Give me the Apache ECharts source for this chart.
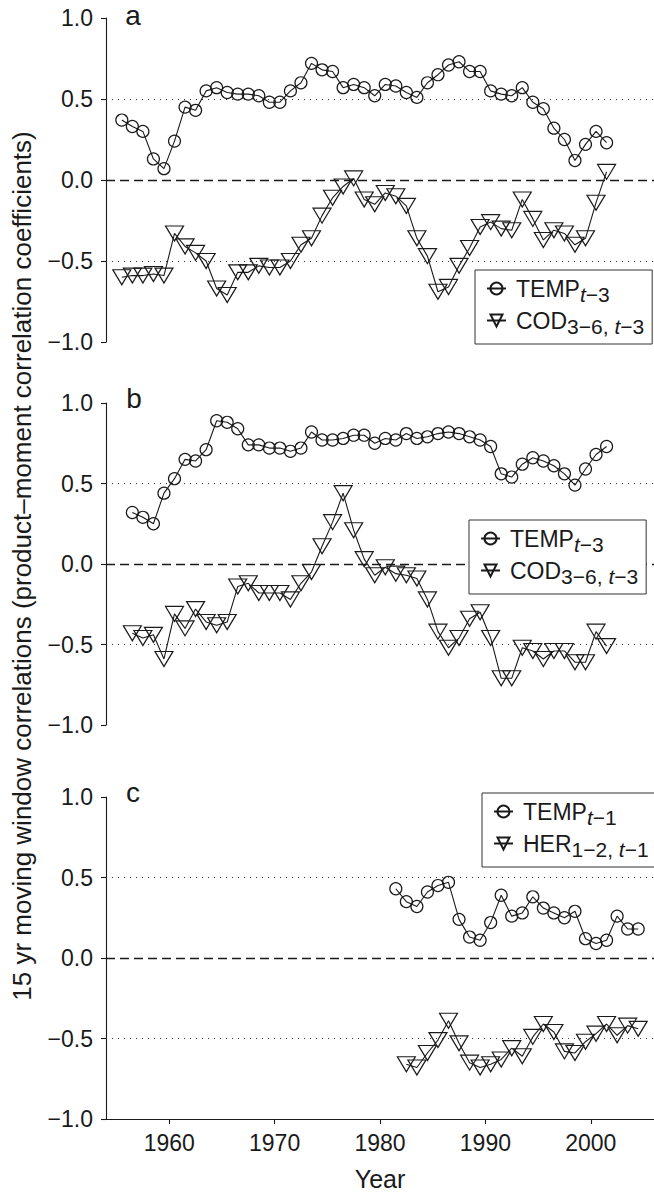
<!DOCTYPE html>
<html>
<head>
<meta charset="utf-8">
<script src="https://cdn.jsdelivr.net/npm/echarts@6/dist/echarts.min.js"></script>
<style>
html,body{margin:0;padding:0;background:#fff;}
#chart{width:654px;height:1192px;}
</style>
</head>
<body>
<div id="chart"></div>
<script>
// ---- data ----
const yearsA = [1955.5,1956.5,1957.5,1958.5,1959.5,1960.5,1961.5,1962.5,1963.5,1964.5,1965.5,1966.5,1967.5,1968.5,1969.5,1970.5,1971.5,1972.5,1973.5,1974.5,1975.5,1976.5,1977.5,1978.5,1979.5,1980.5,1981.5,1982.5,1983.5,1984.5,1985.5,1986.5,1987.5,1988.5,1989.5,1990.5,1991.5,1992.5,1993.5,1994.5,1995.5,1996.5,1997.5,1998.5,1999.5,2000.5,2001.5];
const tempA = [0.37,0.33,0.30,0.13,0.07,0.24,0.45,0.43,0.55,0.57,0.54,0.53,0.53,0.52,0.48,0.48,0.55,0.60,0.72,0.68,0.67,0.57,0.59,0.57,0.52,0.59,0.58,0.54,0.51,0.60,0.65,0.71,0.73,0.67,0.67,0.55,0.53,0.52,0.57,0.48,0.44,0.32,0.25,0.12,0.22,0.30,0.23];
const codA = [-0.60,-0.59,-0.59,-0.58,-0.59,-0.33,-0.41,-0.45,-0.50,-0.67,-0.71,-0.57,-0.57,-0.53,-0.54,-0.54,-0.50,-0.40,-0.36,-0.22,-0.11,-0.04,0.01,-0.12,-0.15,-0.08,-0.10,-0.16,-0.36,-0.47,-0.69,-0.66,-0.53,-0.42,-0.29,-0.26,-0.30,-0.31,-0.12,-0.24,-0.37,-0.31,-0.33,-0.40,-0.36,-0.14,0.05];

const yearsB = [1956.5,1957.5,1958.5,1959.5,1960.5,1961.5,1962.5,1963.5,1964.5,1965.5,1966.5,1967.5,1968.5,1969.5,1970.5,1971.5,1972.5,1973.5,1974.5,1975.5,1976.5,1977.5,1978.5,1979.5,1980.5,1981.5,1982.5,1983.5,1984.5,1985.5,1986.5,1987.5,1988.5,1989.5,1990.5,1991.5,1992.5,1993.5,1994.5,1995.5,1996.5,1997.5,1998.5,1999.5,2000.5,2001.5];
const tempB = [0.32,0.29,0.25,0.44,0.53,0.65,0.64,0.71,0.89,0.88,0.84,0.74,0.74,0.72,0.72,0.70,0.72,0.82,0.77,0.77,0.78,0.80,0.80,0.75,0.78,0.77,0.81,0.78,0.79,0.81,0.82,0.81,0.79,0.77,0.73,0.56,0.54,0.62,0.66,0.64,0.61,0.56,0.49,0.59,0.68,0.73];
const codB = [-0.43,-0.46,-0.44,-0.59,-0.31,-0.40,-0.28,-0.36,-0.38,-0.36,-0.14,-0.12,-0.18,-0.18,-0.18,-0.22,-0.12,-0.05,0.11,0.26,0.44,0.21,0.03,-0.07,-0.02,-0.06,-0.07,-0.09,-0.22,-0.42,-0.52,-0.46,-0.34,-0.30,-0.46,-0.71,-0.71,-0.52,-0.54,-0.59,-0.54,-0.54,-0.61,-0.61,-0.42,-0.51];

const yearsCtemp = [1981.5,1982.5,1983.5,1984.5,1985.5,1986.5,1987.5,1988.5,1989.5,1990.5,1991.5,1992.5,1993.5,1994.5,1995.5,1996.5,1997.5,1998.5,1999.5,2000.5,2001.5,2002.5,2003.5,2004.5];
const tempC = [0.43,0.35,0.32,0.41,0.45,0.47,0.24,0.13,0.11,0.22,0.39,0.26,0.28,0.38,0.31,0.28,0.25,0.29,0.12,0.09,0.11,0.26,0.18,0.18];
const yearsCher = [1982.5,1983.5,1984.5,1985.5,1986.5,1987.5,1988.5,1989.5,1990.5,1991.5,1992.5,1993.5,1994.5,1995.5,1996.5,1997.5,1998.5,1999.5,2000.5,2001.5,2002.5,2003.5,2004.5];
const herC = [-0.66,-0.68,-0.59,-0.51,-0.39,-0.53,-0.65,-0.68,-0.66,-0.63,-0.56,-0.61,-0.49,-0.41,-0.46,-0.58,-0.59,-0.52,-0.47,-0.41,-0.48,-0.42,-0.44];

const xTicks = [1960,1970,1980,1990,2000];
const yTicks = [-1,-0.5,0,0.5,1];
const panelLetters = ['a','b','c'];
const yTitle = '15 yr moving window correlations (product\u2013moment correlation coefficients)';
const xTitle = 'Year';

// ---- chart ----
const FONT = '"Liberation Sans", Arial, Helvetica, sans-serif';
const INK = '#1a1a1a';
const tri = 'path://M0,0L17,0L8.5,14Z';

const grids = [
  {left:106, top:18, width:550, height:324},
  {left:106, top:403, width:550, height:322},
  {left:106, top:797, width:550, height:322}
];

function xAxisFor(i){
  const last = i === 2;
  return {
    type:'value', gridIndex:i, min:1954, max:2006,
    show:true,
    axisLine:{show:last, onZero:false, lineStyle:{color:INK, width:1.1}},
    axisTick:{show:last, length:5, inside:false, customValues:xTicks, lineStyle:{color:INK, width:1.1}},
    axisLabel:{show:last, customValues:xTicks, margin:12, fontSize:23, fontFamily:FONT, color:INK,
      formatter:v => String(v)},
    splitLine:{show:false},
    name: last ? xTitle : '', nameLocation:'middle', nameGap:47,
    nameTextStyle:{fontSize:25, fontFamily:FONT, color:INK}
  };
}
function yAxisFor(i){
  return {
    type:'value', gridIndex:i, min:-1, max:1, interval:0.5,
    axisLine:{show:true, lineStyle:{color:INK, width:1.1}},
    axisTick:{show:true, length:5, lineStyle:{color:INK, width:1.1}},
    axisLabel:{margin:13, fontSize:23, fontFamily:FONT, color:INK,
      formatter:v => v.toFixed(1).replace('-', '\u2212')},
    splitLine:{show:false}
  };
}

const refLines = {
  silent:true, symbol:'none', label:{show:false},
  data:[
    {yAxis:0.5, lineStyle:{type:[1,5], color:'#333', width:1.2}},
    {yAxis:-0.5, lineStyle:{type:[1,5], color:'#333', width:1.2}},
    {yAxis:0, lineStyle:{type:[9,5], color:INK, width:1.3}}
  ]
};

function circleSeries(name, i, xs, ys, withRef){
  const s = {
    name, type:'line', xAxisIndex:i, yAxisIndex:i,
    data: xs.map((x,k)=>[x, ys[k]]),
    symbol:'circle', symbolSize:12,
    lineStyle:{color:INK, width:1.1},
    itemStyle:{color:'rgba(255,255,255,0)', borderColor:INK, borderWidth:1.2},
    z:3, animation:false
  };
  if (withRef) s.markLine = refLines;
  return s;
}
function triSeries(name, i, xs, ys){
  return {
    name, type:'line', xAxisIndex:i, yAxisIndex:i,
    data: xs.map((x,k)=>[x, ys[k]]),
    symbol:tri, symbolSize:[18,15],
    lineStyle:{color:INK, width:1.1},
    itemStyle:{color:'rgba(255,255,255,0)', borderColor:INK, borderWidth:1.2},
    z:3, animation:false
  };
}

const legendText = {
  TEMP_a:'{m|TEMP}{si|t}{s|\u22123}',
  COD_a:'{m|COD}{s|3\u22126, }{si|t}{s|\u22123}',
  TEMP_b:'{m|TEMP}{si|t}{s|\u22123}',
  COD_b:'{m|COD}{s|3\u22126, }{si|t}{s|\u22123}',
  TEMP_c:'{m|TEMP}{si|t}{s|\u22121}',
  HER_c:'{m|HER}{s|1\u22122, }{si|t}{s|\u22121}'
};
const rich = {
  m:{fontSize:23, fontFamily:FONT, color:INK, padding:[0,0,0,5]},
  s:{fontSize:21, fontFamily:FONT, color:INK, padding:[12,0,0,0]},
  si:{fontSize:21, fontFamily:FONT, color:INK, fontStyle:'italic', padding:[12,0,0,0]}
};
function legendFor(names, left, top){
  return {
    data:names, left, top, orient:'vertical', selectedMode:false,
    itemWidth:19, itemHeight:15, itemGap:4,
    padding:[7,8,7,11], borderColor:'#333', borderWidth:1, backgroundColor:'#fff',
    formatter:n => legendText[n],
    textStyle:{rich, fontSize:23, fontFamily:FONT, color:INK},
    z:10
  };
}

const option = {
  animation:false,
  backgroundColor:'#fff',
  grid: grids,
  xAxis:[0,1,2].map(xAxisFor),
  yAxis:[0,1,2].map(yAxisFor),
  legend:[
    legendFor(['TEMP_a','COD_a'], 475, 270),
    legendFor(['TEMP_b','COD_b'], 469, 520),
    legendFor(['TEMP_c','HER_c'], 482, 793)
  ],
  series:[
    circleSeries('TEMP_a',0,yearsA,tempA,true),
    triSeries('COD_a',0,yearsA,codA),
    circleSeries('TEMP_b',1,yearsB,tempB,true),
    triSeries('COD_b',1,yearsB,codB),
    circleSeries('TEMP_c',2,yearsCtemp,tempC,true),
    triSeries('HER_c',2,yearsCher,herC)
  ],
  graphic:[
    {type:'text', x:22, y:566, rotation:Math.PI/2,
      style:{text:yTitle, fontSize:26, fontFamily:FONT, fill:INK, align:'center', verticalAlign:'middle'}},
    {type:'text', x:133, y:15, style:{text:panelLetters[0], fontSize:28, fontFamily:FONT, fill:INK, align:'center', verticalAlign:'middle'}},
    {type:'text', x:134, y:398, style:{text:panelLetters[1], fontSize:28, fontFamily:FONT, fill:INK, align:'center', verticalAlign:'middle'}},
    {type:'text', x:133, y:792, style:{text:panelLetters[2], fontSize:28, fontFamily:FONT, fill:INK, align:'center', verticalAlign:'middle'}}
  ]
};

const chart = echarts.init(document.getElementById('chart'), null, {renderer:'svg', width:654, height:1192});
chart.setOption(option);
</script>
</body>
</html>
